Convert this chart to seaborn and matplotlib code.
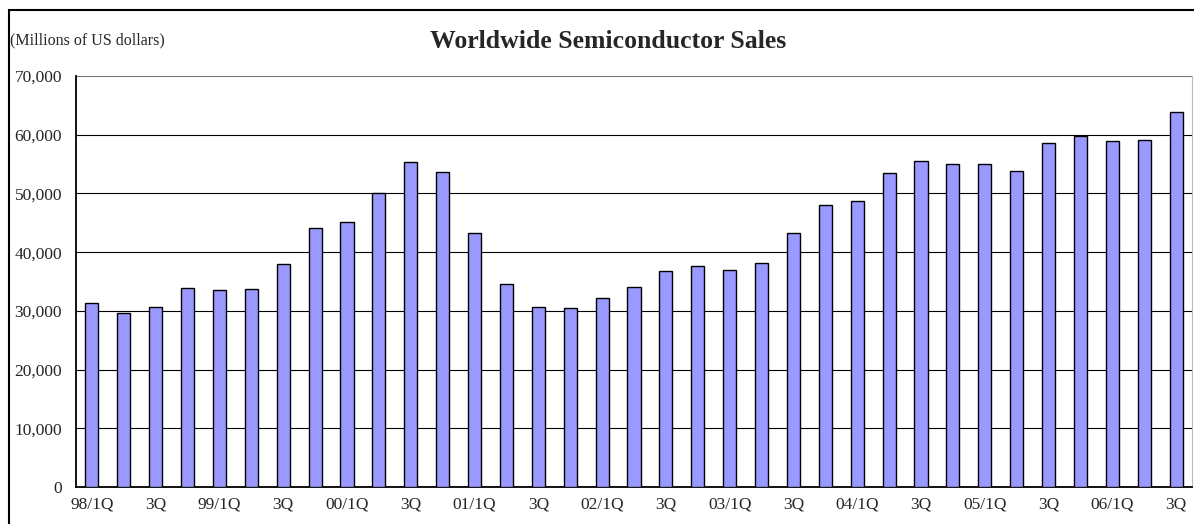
import matplotlib
matplotlib.use('Agg')
import matplotlib.pyplot as plt
import seaborn as sns
import pandas as pd
from matplotlib.ticker import FuncFormatter
from matplotlib.patches import Rectangle

# quarterly worldwide semiconductor sales, millions of US dollars
years = ['98', '99', '00', '01', '02', '03', '04', '05', '06']
quarter_names = ['1Q', '2Q', '3Q', '4Q']
sales = [
    31360, 29660, 30680, 33900,   # 1998
    33570, 33740, 38040, 44150,   # 1999
    45110, 50090, 55300, 53710,   # 2000
    43300, 34640, 30680, 30510,   # 2001
    32180, 34030, 36760, 37610,   # 2002
    36930, 38180, 43260, 47990,   # 2003
    48720, 53480, 55580, 55010,   # 2004
    55010, 53820, 58640, 59830,   # 2005
    58980, 59150, 63800,          # 2006
]
y_ticks = [0, 10000, 20000, 30000, 40000, 50000, 60000, 70000]

quarters = [f'{y}/{q}' for y in years for q in quarter_names][:len(sales)]
df = pd.DataFrame({'quarter': quarters, 'sales': sales})

# labels shown every other bar: "98/1Q", "3Q", "99/1Q", ...
tick_labels = [q if q.endswith('1Q') else q.split('/')[1] for q in quarters[::2]]

sns.set_style('white')
plt.rcParams['font.family'] = ['Liberation Serif', 'DejaVu Serif']

W, H = 1194, 524
fig = plt.figure(figsize=(W / 100, H / 100), dpi=100)
ax = fig.add_axes([76 / W, 37 / H, (1192 - 76) / W, (487 - 76) / H])

sns.barplot(data=df, x='quarter', y='sales', color='#9999FF', saturation=1,
            edgecolor='black', linewidth=1.0, width=0.41, ax=ax, zorder=3)

ax.set_xlim(-0.5, len(sales) - 0.5)
ax.set_ylim(0, 70000)
ax.set_yticks(y_ticks)
ax.yaxis.set_major_formatter(FuncFormatter(lambda v, p: f'{int(v):,}'))
ax.yaxis.grid(True, color='black', linewidth=0.8)
ax.xaxis.grid(False)
ax.set_axisbelow(True)
# top gridline is drawn lighter in the original
ax.get_ygridlines()[-1].set_color('#777777')

ax.set_xticks(range(0, len(sales), 2))
ax.set_xticklabels(tick_labels)
ax.set_xticks([i + 0.5 for i in range(len(sales) - 1)], minor=True)
ax.tick_params(axis='x', which='major', length=0, pad=7, labelsize=12.5)
ax.tick_params(axis='x', which='minor', direction='in', length=4, width=1, color='black')
ax.tick_params(axis='y', which='major', direction='out', length=4, width=1,
               color='black', pad=6, labelsize=12.5)
ax.set_xlabel('')
ax.set_ylabel('')

for side in ['left', 'bottom']:
    ax.spines[side].set_color('black')
    ax.spines[side].set_linewidth(1.3)
ax.spines['top'].set_visible(False)
ax.spines['right'].set_color('#BBBBBB')
ax.spines['right'].set_linewidth(0.8)

fig.text(608 / W, 1 - 42 / H, 'Worldwide Semiconductor Sales', ha='center', va='center',
         fontsize=18.5, fontweight='bold')
fig.text(10 / W, 1 - 40 / H, '(Millions of US dollars)', ha='left', va='center', fontsize=11.5)

# outer chart frame (cut off at right and bottom in the original)
fig.patches.append(Rectangle((9 / W, -0.5), 2, 0.5 + 1 - 10 / H, transform=fig.transFigure,
                             fill=False, edgecolor='black', linewidth=1.5))

fig.savefig('out.png', dpi=100)
